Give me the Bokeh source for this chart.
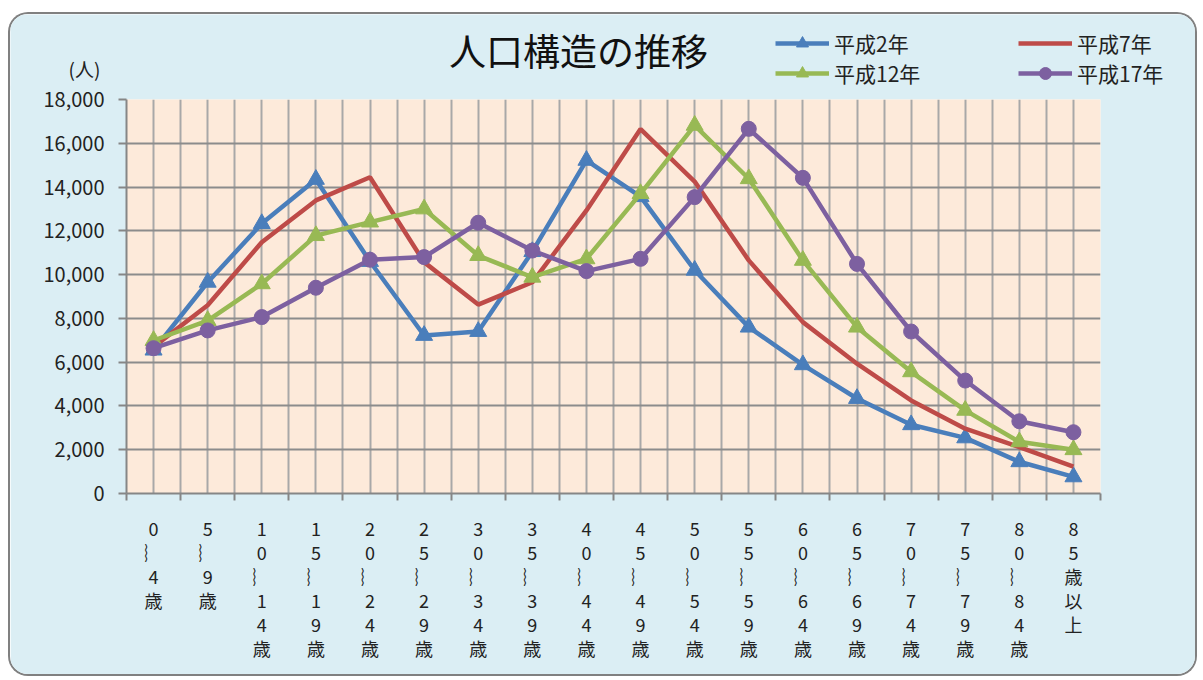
from bokeh.plotting import figure
from bokeh.models import (Range1d, FixedTicker, NumeralTickFormatter, Legend,
                          LegendItem, Label)
from bokeh.embed import file_html
from bokeh.resources import INLINE

# age groups (x categories)
age_groups = ["0～4歳", "5～9歳", "10～14歳", "15～19歳", "20～24歳", "25～29歳",
              "30～34歳", "35～39歳", "40～44歳", "45～49歳", "50～54歳", "55～59歳",
              "60～64歳", "65～69歳", "70～74歳", "75～79歳", "80～84歳", "85歳以上"]

# population per age group (人)
heisei2 = [6550, 9650, 12330, 14350, 10600, 7220, 7400, 11050, 15220, 13560,
           10200, 7600, 5880, 4340, 3140, 2540, 1450, 760]
heisei7 = [6700, 8600, 11480, 13390, 14450, 10570, 8630, 9650, 12930, 16650,
           14250, 10650, 7830, 5930, 4250, 2960, 2120, 1230]
heisei12 = [6990, 7900, 9580, 11780, 12400, 13000, 10870, 9880, 10720, 13700,
            16820, 14380, 10650, 7600, 5560, 3800, 2360, 2000]
heisei17 = [6640, 7450, 8060, 9400, 10680, 10800, 12370, 11100, 10160, 10720,
            13540, 16660, 14420, 10490, 7400, 5160, 3300, 2800]

y_ticks = list(range(0, 18001, 2000))

JP = "Noto Sans CJK JP"
BG = "#DBEEF4"
EDGE = "2px solid #808080"
W = 1189

x = [i + 0.5 for i in range(len(age_groups))]

# ---- main chart
p = figure(width=W, height=591, output_backend="svg", toolbar_location=None,
           x_range=Range1d(0, len(age_groups)), y_range=Range1d(0, 18000),
           min_border_left=116, min_border_right=99, min_border_top=14,
           min_border_bottom=183)
p.background_fill_color = "#FDEADA"
p.border_fill_color = BG
p.outline_line_color = None
p.margin = (-5, 0, 0, 8)
p.styles = {"border": EDGE, "border-top": "none",
            "border-radius": "0 0 20px 20px", "overflow": "hidden"}

# x axis: labels at centers, ticks at category boundaries
vert_labels = {}
for xi, g in zip(x, age_groups):
    vert_labels[xi] = "\n".join(g.replace("～", "︴"))
p.xaxis.ticker = FixedTicker(ticks=x, minor_ticks=list(range(len(age_groups) + 1)))
p.xaxis.major_label_overrides = vert_labels
p.xaxis.major_tick_out = 0
p.xaxis.major_tick_in = 0
p.xaxis.minor_tick_out = 7
p.xaxis.minor_tick_in = 0
p.xaxis.minor_tick_line_color = "#868686"
p.xaxis.minor_tick_line_width = 2
p.xaxis.axis_line_color = "#868686"
p.xaxis.axis_line_width = 2
p.xaxis.major_label_text_font = JP
p.xaxis.major_label_text_font_size = "18px"
p.xaxis.major_label_text_line_height = 0.925
p.xaxis.major_label_text_color = "#222222"
p.xaxis.major_label_standoff = 14

p.yaxis.ticker = FixedTicker(ticks=y_ticks)
p.yaxis.formatter = NumeralTickFormatter(format="0,0")
p.yaxis.major_tick_out = 8
p.yaxis.major_tick_in = 0
p.yaxis.minor_tick_line_color = None
p.yaxis.major_tick_line_color = "#868686"
p.yaxis.major_tick_line_width = 2
p.yaxis.axis_line_color = "#868686"
p.yaxis.axis_line_width = 2
p.yaxis.major_label_text_font = JP
p.yaxis.major_label_text_font_size = "20px"
p.yaxis.major_label_text_line_height = 0.8
p.yaxis.major_label_text_color = "#222222"
p.yaxis.major_label_standoff = 14

p.xgrid.grid_line_color = "#a8a8a8"
p.xgrid.grid_line_width = 2
p.xgrid.minor_grid_line_color = "#a8a8a8"
p.xgrid.minor_grid_line_width = 2
p.ygrid.grid_line_color = "#8c8c8c"
p.ygrid.grid_line_width = 2

series = [
    ("平成2年", heisei2, "#4A7EBB", "triangle"),
    ("平成7年", heisei7, "#BE4B48", None),
    ("平成12年", heisei12, "#98B954", "triangle"),
    ("平成17年", heisei17, "#7D60A0", "circle"),
]

# ---- header strip (own root, so its frame spans the full width)
h = figure(width=W, height=78, output_backend="svg", toolbar_location=None,
           x_range=Range1d(0, W), y_range=Range1d(0, 78),
           x_axis_type=None, y_axis_type=None, min_border=0)
h.grid.visible = False
h.background_fill_color = BG
h.border_fill_color = BG
h.outline_line_color = None
h.margin = (12, 0, 0, 8)
h.styles = {"border": EDGE, "border-bottom": "none",
            "border-radius": "20px 20px 0 0", "overflow": "hidden"}

items = {}
for name, vals, color, marker in series:
    p.line(x, vals, line_color=color, line_width=4.5)
    # same series in the header, above its view, only to feed the legend
    r = [h.line(x, vals, line_color=color, line_width=4.5)]
    if marker:
        size = 17 if marker == "triangle" else 15
        p.scatter(x, vals, marker=marker, size=size, fill_color=color,
                  line_color=color)
        r.append(h.scatter(x, vals, marker=marker, size=size, fill_color=color,
                           line_color=color))
    items[name] = r

leg1 = Legend(items=[LegendItem(label="平成2年", renderers=items["平成2年"]),
                     LegendItem(label="平成12年", renderers=items["平成12年"])],
              location=(765, 4))
leg2 = Legend(items=[LegendItem(label="平成7年", renderers=items["平成7年"]),
                     LegendItem(label="平成17年", renderers=items["平成17年"])],
              location=(1008, 4))
for leg in (leg1, leg2):
    leg.background_fill_alpha = 0
    leg.border_line_color = None
    leg.padding = 0
    leg.margin = 0
    leg.spacing = 0
    leg.glyph_width = 54
    leg.glyph_height = 30
    leg.label_height = 20
    leg.label_standoff = 5
    leg.label_text_font = JP
    leg.label_text_font_size = "21px"
    leg.label_text_line_height = 0.8
    leg.label_text_color = "#222222"
    h.add_layout(leg)

h.add_layout(Label(x=568, y=43, text="人口構造の推移", text_font=JP,
                   text_font_size="37px", text_align="center",
                   text_baseline="middle", text_color="#111111"))
h.add_layout(Label(x=74, y=24, text="(人)", text_font=JP, text_font_size="19px",
                   text_align="center", text_baseline="middle",
                   text_color="#222222"))

open("out.html", "w").write(file_html([h, p], INLINE))
